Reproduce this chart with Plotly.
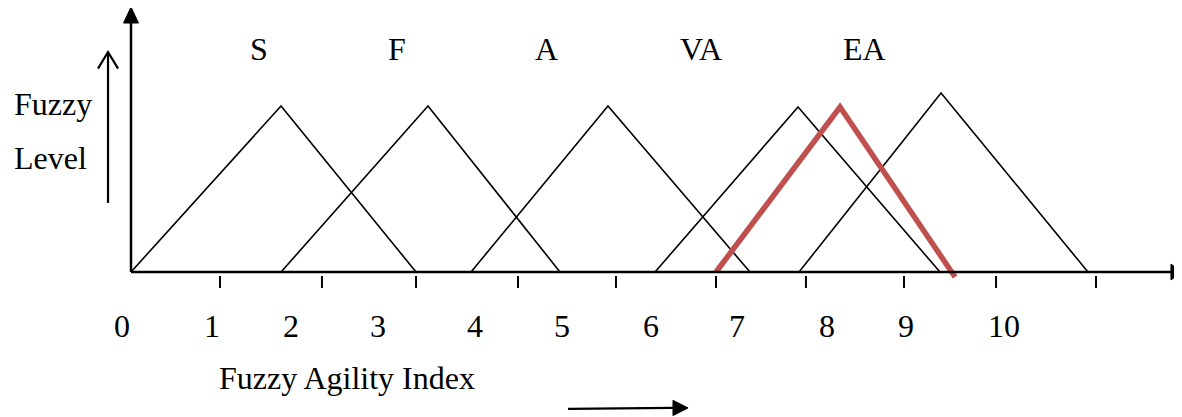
import plotly.graph_objects as go

# ---- data (x: fuzzy agility index units of the drawing, y: fuzzy level) ----
set_names = ["S", "F", "A", "VA", "EA"]
set_starts = [0.0, 1.705, 3.864, 5.955, 7.591]
set_peaks_x = [1.705, 3.375, 5.420, 7.580, 9.205]
set_peaks_y = [1.0, 1.0, 1.0, 0.994, 1.078]
set_ends = [3.239, 4.875, 7.034, 9.193, 10.875]
set_label_x = [1.455, 3.023, 4.716, 6.477, 8.330]

red_x = [6.648, 8.057, 9.364]
red_y = [0.0, 0.994, -0.03]

tick_x = [1.011, 2.170, 3.239, 4.398, 5.511, 6.648, 7.670, 8.784, 9.830, 10.966]
tick_labels = ["0", "1", "2", "3", "4", "5", "6", "7", "8", "9", "10"]
tick_label_x = [-0.102, 0.920, 1.818, 2.807, 3.909, 4.898, 5.909, 6.886, 7.909, 8.807, 9.920]

BLACK = "#000000"
RED = "#C0504D"
FONT = "Liberation Serif, Times New Roman, serif"
FS = 32

# page has an 8px body margin: size/offset the figure to compensate
W, H, OFF = 1174, 409, 8
PXX, PXY = 88.0, 166.0  # pixels per unit on x and y
X0_PX, Y0_PX = 131 - OFF, 272 - OFF

fig = go.Figure()

# membership triangles
for s, px, py, e in zip(set_starts, set_peaks_x, set_peaks_y, set_ends):
    fig.add_trace(go.Scatter(x=[s, px, e], y=[0, py, 0], mode="lines",
                             line=dict(color=BLACK, width=1.6), hoverinfo="skip"))

# highlighted triangle
fig.add_trace(go.Scatter(x=red_x, y=red_y, mode="lines",
                         line=dict(color=RED, width=5.5), hoverinfo="skip"))

# axes lines
x_end, x_tip = 11.818, 11.94
y_end, y_tip = 1.50, 1.596
fig.add_trace(go.Scatter(x=[0, x_end], y=[0, 0], mode="lines",
                         line=dict(color=BLACK, width=2.5), hoverinfo="skip"))
fig.add_trace(go.Scatter(x=[0, 0], y=[0, y_end], mode="lines",
                         line=dict(color=BLACK, width=2.5), hoverinfo="skip"))
# arrowheads
fig.add_trace(go.Scatter(x=[x_end, x_tip, x_end, x_end], y=[0.048, 0, -0.048, 0.048],
                         mode="lines", fill="toself", fillcolor=BLACK,
                         line=dict(color=BLACK, width=1), hoverinfo="skip"))
fig.add_trace(go.Scatter(x=[-0.085, 0, 0.085, -0.085], y=[y_end, y_tip, y_end, y_end],
                         mode="lines", fill="toself", fillcolor=BLACK,
                         line=dict(color=BLACK, width=1), hoverinfo="skip"))

# ticks
tx, ty = [], []
for t in tick_x:
    tx += [t, t, None]
    ty += [-0.024, -0.096, None]
fig.add_trace(go.Scatter(x=tx, y=ty, mode="lines",
                         line=dict(color=BLACK, width=2), hoverinfo="skip"))

# "Fuzzy Level" arrow (open head)
fig.add_trace(go.Scatter(x=[-0.261, -0.261], y=[0.416, 1.325], mode="lines",
                         line=dict(color=BLACK, width=2.2), hoverinfo="skip"))
fig.add_trace(go.Scatter(x=[-0.375, -0.261, -0.147], y=[1.225, 1.325, 1.225], mode="lines",
                         line=dict(color=BLACK, width=2.2), hoverinfo="skip"))

# bottom arrow
fig.add_trace(go.Scatter(x=[4.966, 6.159], y=[-0.825, -0.819], mode="lines",
                         line=dict(color=BLACK, width=2.2), hoverinfo="skip"))
fig.add_trace(go.Scatter(x=[6.159, 6.33, 6.159, 6.159], y=[-0.773, -0.819, -0.865, -0.773],
                         mode="lines", fill="toself", fillcolor=BLACK,
                         line=dict(color=BLACK, width=1), hoverinfo="skip"))

annotations = []
for name, lx in zip(set_names, set_label_x):
    annotations.append(dict(x=lx, y=1.343, text=name, showarrow=False,
                            xanchor="center", yanchor="middle",
                            font=dict(family=FONT, size=FS, color=BLACK)))
for lab, lx in zip(tick_labels, tick_label_x):
    annotations.append(dict(x=lx, y=-0.325, text=lab, showarrow=False,
                            xanchor="center", yanchor="middle",
                            font=dict(family=FONT, size=FS, color=BLACK)))
annotations.append(dict(x=-1.352, y=1.015, text="Fuzzy", showarrow=False,
                        xanchor="left", yanchor="middle",
                        font=dict(family=FONT, size=FS, color=BLACK)))
annotations.append(dict(x=-1.352, y=0.684, text="Level", showarrow=False,
                        xanchor="left", yanchor="middle",
                        font=dict(family=FONT, size=FS, color=BLACK)))
annotations.append(dict(x=2.460, y=-0.639, text="Fuzzy Agility Index", showarrow=False,
                        xanchor="center", yanchor="middle",
                        font=dict(family=FONT, size=FS, color=BLACK)))

fig.update_layout(
    width=W, height=H,
    margin=dict(l=0, r=0, t=0, b=0),
    paper_bgcolor="white", plot_bgcolor="white",
    showlegend=False,
    xaxis=dict(range=[-X0_PX / PXX, (W - X0_PX) / PXX], visible=False, fixedrange=True),
    yaxis=dict(range=[(Y0_PX - H) / PXY, Y0_PX / PXY], visible=False, fixedrange=True),
    annotations=annotations,
)

fig.write_html("out.html")
